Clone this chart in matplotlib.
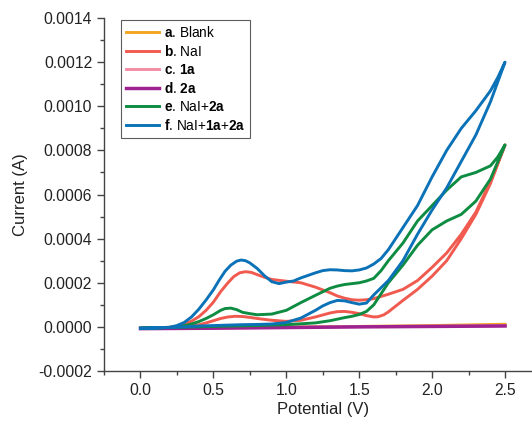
import numpy as np
import matplotlib
matplotlib.use("Agg")
import matplotlib.pyplot as plt
from matplotlib.ticker import MultipleLocator, FormatStrFormatter

plt.rcParams['font.family'] = ['Liberation Sans', 'DejaVu Sans']
plt.rcParams['mathtext.fontset'] = 'custom'
plt.rcParams['mathtext.rm'] = 'Liberation Sans'
plt.rcParams['mathtext.bf'] = 'Liberation Sans:bold'

# ---- data (potential in V, current in A) ----
# flat curves
flat_v = [0.0, 0.5, 1.0, 1.5, 2.0, 2.5]
blank_i = [-0.000006, -0.000004, -0.000001, 0.000002, 0.000006, 0.000012]
a1_i = [-0.000007, -0.000005, -0.000002, 0.000001, 0.000003, 0.000006]
a2_i = [-0.000008, -0.000006, -0.000003, 0.0, 0.000002, 0.000004]

# NaI: forward (lower) and reverse (upper) branches
nai_fwd_v = [0.0, 0.2, 0.3, 0.4, 0.45, 0.5, 0.55, 0.6, 0.65, 0.7, 0.75, 0.8, 0.9, 1.0,
             1.1, 1.2, 1.3, 1.35, 1.4, 1.45, 1.5, 1.55, 1.6, 1.63, 1.67, 1.7, 1.8, 1.9,
             2.0, 2.1, 2.2, 2.3, 2.4, 2.5]
nai_fwd_i = [-0.000006, -0.000003, 0.0, 0.000009, 0.000018, 0.000028, 0.000038, 0.000045,
             0.000048, 0.000047, 0.000043, 0.000038, 0.00003, 0.000025,
             0.00003, 0.000045, 0.000063, 0.000069, 0.00007, 0.000066, 0.00006,
             0.000051, 0.000045, 0.000046, 0.000055, 0.000068, 0.00012, 0.00017,
             0.00023, 0.0003, 0.0004, 0.00051, 0.00065, 0.000825]
nai_rev_v = [2.5, 2.4, 2.3, 2.2, 2.1, 2.0, 1.9, 1.8, 1.7, 1.6, 1.55, 1.5, 1.45, 1.4,
             1.35, 1.3, 1.2, 1.1, 1.0, 0.9, 0.85, 0.8, 0.76, 0.72, 0.68, 0.64, 0.6,
             0.55, 0.5, 0.45, 0.4, 0.35, 0.3, 0.25, 0.2, 0.0]
nai_rev_i = [0.000825, 0.00066, 0.00052, 0.00042, 0.000335, 0.00027, 0.00021, 0.00017,
             0.000148, 0.000128, 0.000123, 0.000121, 0.000123, 0.00013,
             0.00014, 0.000155, 0.00018, 0.0002, 0.000207, 0.000215, 0.000225,
             0.000237, 0.000247, 0.00025, 0.000245, 0.000228, 0.0002,
             0.00016, 0.000112, 0.000075, 0.000046, 0.000026, 0.000012, 0.000003,
             -0.000002, -0.000006]

# NaI+2a
e_fwd_v = [0.0, 0.5, 0.8, 1.0, 1.2, 1.3, 1.4, 1.45, 1.5, 1.55, 1.6, 1.65, 1.7, 1.8,
           1.9, 2.0, 2.1, 2.2, 2.3, 2.4, 2.5]
e_fwd_i = [-0.000006, 0.000002, 0.000006, 0.00001, 0.000018, 0.000028, 0.000042,
           0.000048, 0.000056, 0.00007, 0.0001, 0.00015, 0.0002, 0.00028,
           0.00037, 0.00044, 0.00048, 0.00051, 0.00057, 0.00067, 0.000825]
e_rev_v = [2.5, 2.45, 2.4, 2.3, 2.2, 2.1, 2.0, 1.9, 1.8, 1.7, 1.65, 1.6, 1.55, 1.5,
           1.4, 1.35, 1.3, 1.2, 1.1, 1.0, 0.9, 0.8, 0.75, 0.7, 0.66, 0.62, 0.58,
           0.55, 0.5, 0.45, 0.4, 0.35, 0.3, 0.2, 0.0]
e_rev_i = [0.000825, 0.00077, 0.00073, 0.0007, 0.00068, 0.00062, 0.00055, 0.00048,
           0.00038, 0.0003, 0.000255, 0.00022, 0.000208, 0.0002,
           0.000192, 0.000185, 0.000175, 0.000143, 0.00011, 0.000075, 0.000058,
           0.000055, 0.00006, 0.000066, 0.000078, 0.000085, 0.000083,
           0.000075, 0.000055, 0.000038, 0.000024, 0.000013, 0.000005, -0.000002,
           -0.000006]

# NaI+1a+2a
f_fwd_v = [0.0, 0.1, 0.2, 0.3, 0.4, 0.5, 0.6, 0.7, 0.8, 0.9, 1.0, 1.1, 1.2, 1.25, 1.3,
           1.35, 1.4, 1.45, 1.5, 1.55, 1.6, 1.7, 1.8, 1.9, 2.0, 2.1, 2.2, 2.3, 2.4, 2.5]
f_fwd_i = [-0.000006, -0.000005, -0.000003, 0.0, 0.000004, 0.000006, 0.000008, 0.00001,
           0.000011, 0.000013, 0.00002, 0.00004, 0.000075, 0.000095, 0.00011,
           0.00012, 0.000118, 0.00011, 0.000103, 0.000108, 0.000145, 0.00021,
           0.0003, 0.00042, 0.00053, 0.00063, 0.00075, 0.00087, 0.00102, 0.0012]
f_rev_v = [2.5, 2.45, 2.4, 2.3, 2.25, 2.2, 2.1, 2.0, 1.9, 1.8, 1.7, 1.65, 1.6, 1.55,
           1.5, 1.45, 1.4, 1.35, 1.3, 1.25, 1.2, 1.1, 1.05, 1.0, 0.95, 0.9, 0.85,
           0.8, 0.75, 0.72, 0.69, 0.66, 0.62, 0.58, 0.54, 0.5, 0.45, 0.4, 0.35,
           0.3, 0.25, 0.2, 0.1, 0.0]
f_rev_i = [0.0012, 0.00113, 0.00107, 0.00098, 0.00094, 0.0009, 0.0008, 0.00068,
           0.00055, 0.00045, 0.00035, 0.00031, 0.000285, 0.000267,
           0.000258, 0.000254, 0.000255, 0.000258, 0.000259, 0.000255, 0.000245,
           0.000222, 0.000208, 0.000203, 0.000196, 0.000205, 0.000232,
           0.000265, 0.00029, 0.0003, 0.000303, 0.000298, 0.00028, 0.000252,
           0.000212, 0.000168, 0.000122, 0.00008, 0.000045,
           0.00002, 0.000006, -0.000002, -0.000005, -0.000006]

labels = [r"$\bf{a}$. Blank", r"$\bf{b}$. NaI", r"$\bf{c}$. $\bf{1a}$",
          r"$\bf{d}$. $\bf{2a}$", r"$\bf{e}$. NaI+$\bf{2a}$",
          r"$\bf{f}$. NaI+$\bf{1a}$+$\bf{2a}$"]
colors = ['#F2A623', '#F05A4F', '#F48CA4', '#9E2390', '#0E8C42', '#0B72B8']

fig = plt.figure(figsize=(5.32, 4.24), dpi=100)
ax = fig.add_axes([0.1955, 0.125, 0.8045, 0.8325])

lw = 2.1
ax.plot(flat_v, blank_i, color=colors[0], lw=lw, label=labels[0])
ax.plot(nai_fwd_v + nai_rev_v, nai_fwd_i + nai_rev_i, color=colors[1], lw=lw, label=labels[1])
ax.plot(flat_v, a1_i, color=colors[2], lw=lw, label=labels[2])
ax.plot(flat_v, a2_i, color=colors[3], lw=lw + 0.4, label=labels[3])
ax.plot(e_fwd_v + e_rev_v, e_fwd_i + e_rev_i, color=colors[4], lw=lw, label=labels[4])
ax.plot(f_fwd_v + f_rev_v, f_fwd_i + f_rev_i, color=colors[5], lw=lw, label=labels[5])

ax.set_xlim(-0.25, 2.685)
ax.set_ylim(-0.0002, 0.0014)
ax.xaxis.set_major_locator(MultipleLocator(0.5))
ax.xaxis.set_minor_locator(MultipleLocator(0.25))
ax.yaxis.set_major_locator(MultipleLocator(0.0002))
ax.yaxis.set_minor_locator(MultipleLocator(0.0001))
ax.xaxis.set_major_formatter(FormatStrFormatter('%.1f'))
ax.yaxis.set_major_formatter(FormatStrFormatter('%.4f'))

for s in ['top', 'right']:
    ax.spines[s].set_visible(False)
for s in ['left', 'bottom']:
    ax.spines[s].set_color('#444444')
    ax.spines[s].set_linewidth(1.0)
ax.tick_params(which='major', length=5, width=1, color='#444444', labelsize=11.3,
               labelcolor='#222222')
ax.tick_params(which='minor', length=3, width=1, color='#444444')

ax.set_xlabel('Potential (V)', fontsize=12, color='#222222')
ax.set_ylabel('Current (A)', fontsize=12, color='#222222')
ax.xaxis.set_label_coords(0.511, -0.088)
ax.yaxis.set_label_coords(-0.178, 0.5)

leg = ax.legend(loc='upper left', bbox_to_anchor=(0.04, 0.995), fontsize=9.8,
                frameon=True, fancybox=False, edgecolor='#333333', handlelength=2.4,
                labelspacing=0.3, borderpad=0.35, handletextpad=0.4, borderaxespad=0)
leg.get_frame().set_linewidth(0.8)

fig.savefig('out.png', dpi=100)
